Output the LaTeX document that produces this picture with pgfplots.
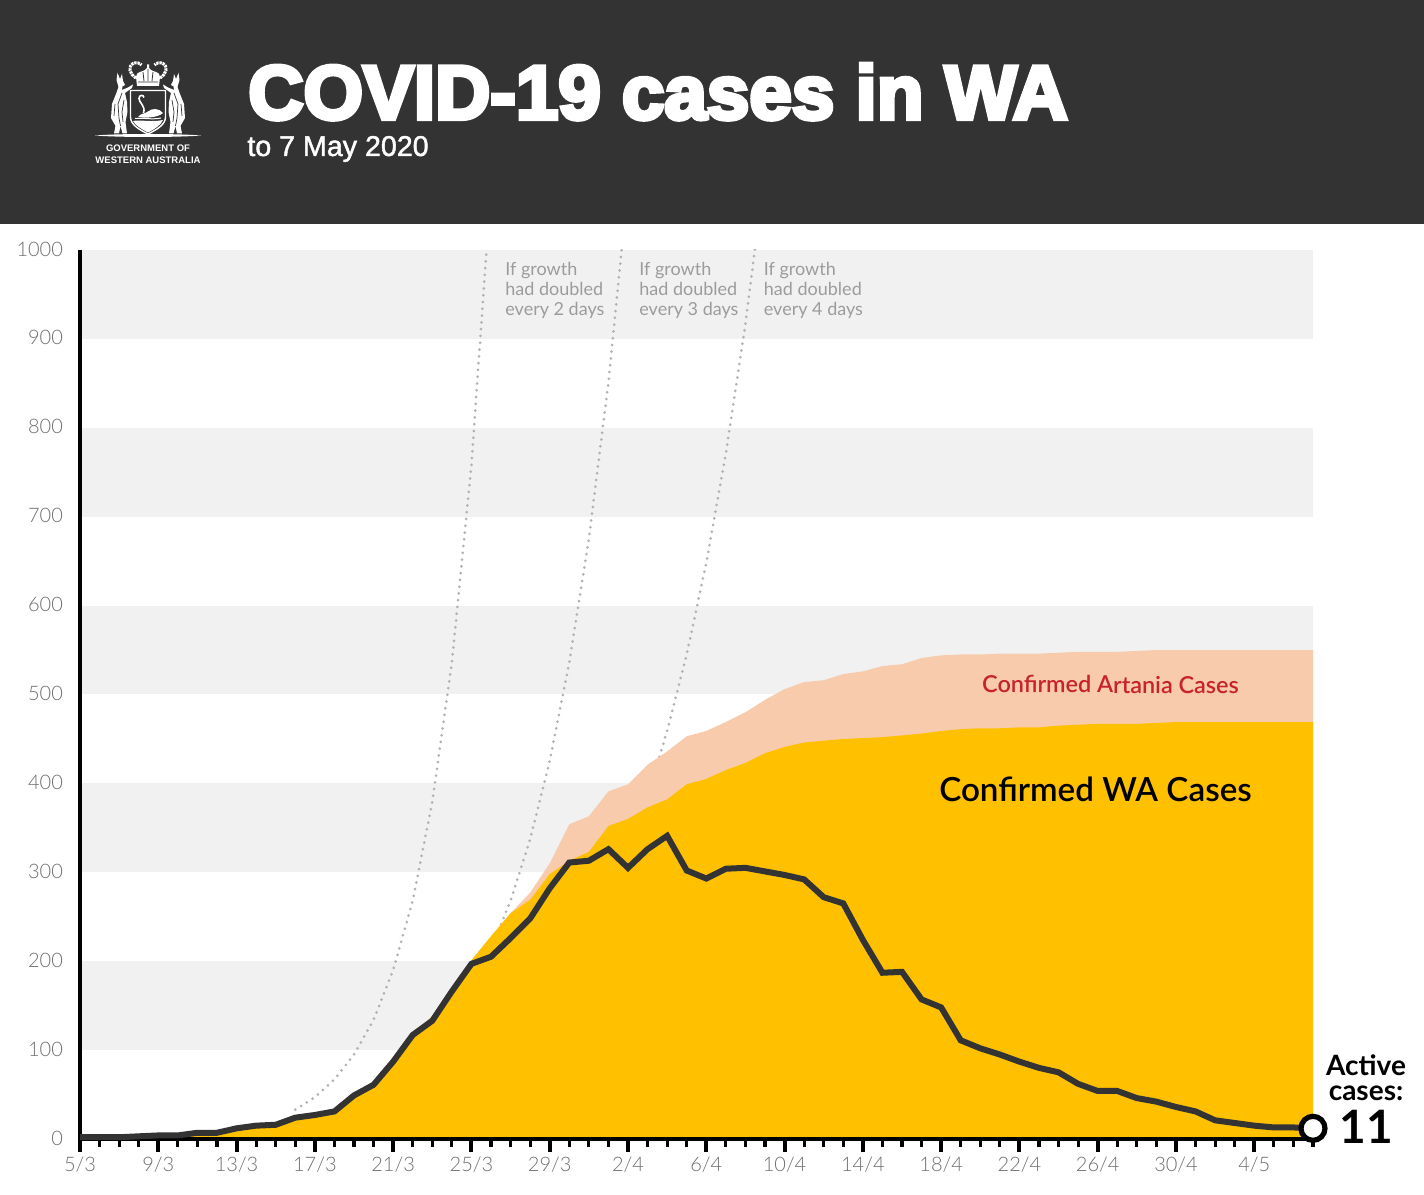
\documentclass[border=0pt]{standalone}
\usepackage{fontspec}
\usepackage{pgfplots}
\pgfplotsset{compat=1.18}
\setmainfont{Lato}
\newfontfamily\lightfont{Lato Light}
\newfontfamily\semifont{Lato Semibold}
\newfontfamily\heavyfont{Liberation Sans Bold}[FakeBold=5.5]
\newfontfamily\subfont{Liberation Sans}[FakeBold=1.6]
\newfontfamily\logofont{Liberation Sans Bold}
\definecolor{header}{HTML}{333333}
\definecolor{band}{HTML}{F1F1F1}
\definecolor{wa}{HTML}{FFC000}
\definecolor{artania}{HTML}{F7CBAC}
\definecolor{artred}{HTML}{C8232C}
\definecolor{tickgrey}{HTML}{6E6E6E}
\definecolor{dotgrey}{HTML}{B2B2B2}
\definecolor{notegrey}{HTML}{9C9C9C}

\begin{document}
\begin{tikzpicture}
\useasboundingbox (0,0) rectangle (712pt,597pt);
\begin{axis}[
    at={(40pt,27.5pt)}, anchor=south west,
    scale only axis, width=616.5pt, height=444.5pt,
    xmin=0, xmax=63, ymin=0, ymax=1000,
    axis on top,
    axis x line=bottom, axis y line=left,
    axis line style={-, line width=2pt, black},
    xtick={0,4,...,60},
    xticklabels={5/3,9/3,13/3,17/3,21/3,25/3,29/3,2/4,6/4,10/4,14/4,18/4,22/4,26/4,30/4,4/5},
    minor xtick={0,...,63},
    ytick={0,100,...,1000},
    tick align=outside,
    major tick length=6.5pt, minor tick length=4pt,
    xtick style={line width=2pt, black},
    minor x tick style={line width=1.6pt, black},
    ytick style={draw=none},
    /pgf/number format/assume math mode=true,
    /pgf/number format/1000 sep={},
    ticklabel style={font=\lightfont\fontsize{10}{12}\selectfont, text=tickgrey},
    xticklabel style={yshift=1pt},
    yticklabel style={xshift=1.5pt, yshift=0.5pt},
]
% grey bands
\addplot[fill=band, draw=none] coordinates {(0,900) (63,900) (63,1000) (0,1000)} --cycle;
\addplot[fill=band, draw=none] coordinates {(0,700) (63,700) (63,800) (0,800)} --cycle;
\addplot[fill=band, draw=none] coordinates {(0,500) (63,500) (63,600) (0,600)} --cycle;
\addplot[fill=band, draw=none] coordinates {(0,300) (63,300) (63,400) (0,400)} --cycle;
\addplot[fill=band, draw=none] coordinates {(0,100) (63,100) (63,200) (0,200)} --cycle;
% doubling guides
\addplot[dotgrey, line width=1.5pt, line cap=round, dash pattern=on 0pt off 3.4pt] coordinates {
    (11,33) (12,47) (13,67) (14,95) (15,134) (16,190) (17,268) (18,379) (19,536) (20,758) (21,1072) };
\addplot[dotgrey, line width=1.5pt, line cap=round, dash pattern=on 0pt off 3.4pt] coordinates {
    (21,213) (22,268) (23,337) (24,425) (25,536) (26,675) (27,851) (28,1072) };
\addplot[dotgrey, line width=1.5pt, line cap=round, dash pattern=on 0pt off 3.4pt] coordinates {
    (29,386) (30,459) (31,545) (32,648) (33,771) (34,917) (35,1090) };
% all confirmed (WA + Artania)
\addplot[fill=artania, draw=none] coordinates {
    (0,0) (4,0) (5,3) (6,5) (7,5) (8,10) (9,13) (10,14) (11,23) (12,26) (13,30) (14,48) (15,60)
    (16,87) (17,118) (18,138) (19,170) (20,201) (21,228) (22,254) (23,277) (24,310) (25,354)
    (26,363) (27,391) (28,399) (29,421) (30,436) (31,453) (32,459) (33,469) (34,480) (35,494)
    (36,506) (37,514) (38,516) (39,523) (40,526) (41,532) (42,534) (43,541) (44,544) (45,545)
    (46,545) (47,546) (48,546) (49,546) (50,547) (51,548) (52,548) (53,548) (54,549) (55,550)
    (56,550) (57,550) (58,550) (59,550) (60,550) (61,550) (62,550) (63,550) (63,0) } --cycle;
% WA cases
\addplot[fill=wa, draw=none] coordinates {
    (0,0) (4,0) (5,3) (6,5) (7,5) (8,10) (9,13) (10,14) (11,23) (12,26) (13,30) (14,48) (15,60)
    (16,87) (17,118) (18,138) (19,170) (20,201) (21,228) (22,254) (23,269) (24,298) (25,313)
    (26,323) (27,352) (28,360) (29,373) (30,382) (31,399) (32,405) (33,415) (34,423) (35,434)
    (36,441) (37,446) (38,448) (39,450) (40,451) (41,452) (42,454) (43,456) (44,459) (45,461)
    (46,462) (47,462) (48,463) (49,463) (50,465) (51,466) (52,467) (53,467) (54,467) (55,468)
    (56,469) (57,469) (58,469) (59,469) (60,469) (61,469) (62,469) (63,469) (63,0) } --cycle;
\end{axis}
% second axis so the active line and its end marker sit over the axis lines
\begin{axis}[
    at={(40pt,27.5pt)}, anchor=south west,
    scale only axis, width=616.5pt, height=444.5pt,
    xmin=0, xmax=63, ymin=0, ymax=1000,
    clip=false, hide axis,
]
\addplot[header, line width=3pt, line join=miter] coordinates {
    (0,2) (1,2) (2,2) (3,3) (4,4) (5,4) (6,7) (7,7) (8,12) (9,15) (10,16) (11,24) (12,27) (13,31)
    (14,49) (15,61) (16,87) (17,117) (18,133) (19,166) (20,197) (21,205) (22,226) (23,248) (24,282)
    (25,311) (26,313) (27,326) (28,305) (29,326) (30,341) (31,302) (32,293) (33,304) (34,305)
    (35,301) (36,297) (37,292) (38,272) (39,265) (40,224) (41,187) (42,188) (43,157) (44,148)
    (45,111) (46,102) (47,95) (48,87) (49,80) (50,75) (51,62) (52,54) (53,54) (54,46) (55,42)
    (56,36) (57,31) (58,21) (59,18) (60,15) (61,13) (62,13) (63,12) };
\addplot[only marks, mark=*, mark size=6pt, mark options={fill=white, draw=black, line width=2.6pt}]
    coordinates {(63,12)};
\end{axis}

% everything below in image pixels, y downwards
\begin{scope}[x=0.5pt, y=-0.5pt, yshift=597pt]
\fill[header] (0,0) rectangle (1424,224);
\node[anchor=base west, inner sep=0, text=white] at (248,119)
    {\heavyfont\fontsize{38.2}{39}\selectfont COVID-19 cases in WA};
\node[anchor=base west, inner sep=0, text=white] at (247,156)
    {\subfont\fontsize{14.3}{16}\selectfont to 7 May 2020};
% crest, drawn roughly
\fill[white] (95,135.5) .. controls (120,133.5) and (176,133.5) .. (201,135.5) .. controls (176,137.5) and (120,137.5) .. (95,135.5) -- cycle;
\foreach \sx/\ox in {1/0, -1/296} {
  \begin{scope}[xshift=\ox*0.5pt, xscale=\sx]
    % kangaroo
    \fill[white] (117.5,73) -- (120,79) -- (122,74) -- (123,81) -- (125,85) -- (122.5,86.5) -- (122,90) -- (128,87.5)
      -- (133,84.5) -- (132,88) -- (125,93) -- (127,102) -- (127.5,112) -- (125.5,122) -- (127,133.5) -- (122.5,133.5)
      -- (120.5,126) -- (119,133.5) -- (114,133.5) -- (115.5,126) -- (111,118) -- (112,104) -- (116,94) -- (118.5,87) -- (116.5,80) -- cycle;
    \draw[header, line width=0.35pt] (122,93) -- (118,104) -- (119,118) -- (120.5,126)
      (124,100) -- (122,112) -- (123,122) (115,104) -- (114,116);
    % wreath
    \draw[white, line width=1.5pt, dash pattern=on 1.2pt off 0.4pt] (136,78) .. controls (129,74) and (128,66) .. (133,63.5)
      .. controls (136,62) and (140,63) .. (141.5,65);
  \end{scope}
}
% crown
\fill[white] (137,86) -- (136,77) .. controls (136,71) and (143,72) .. (145,70) -- (147,68) -- (147,64.5) -- (149,64.5) -- (149,68) -- (151,70)
  .. controls (153,72) and (160,71) .. (160,77) -- (159,86) -- cycle;
\draw[header, line width=0.4pt] (138,82) -- (158,82) (143,72) -- (144,81) (148,69) -- (148,81) (153,72) -- (152,81);
% shield
\filldraw[draw=white, fill=header, line width=0.7pt] (130.5,90.5) -- (165.5,90.5) -- (165.5,117)
  .. controls (165.5,125) and (156,130) .. (148,134) .. controls (140,130) and (130.5,125) .. (130.5,117) -- cycle;
\fill[white] (133,121) .. controls (141,119.5) and (152,122.5) .. (163,120) .. controls (161,125) and (155,129) .. (148,132.5)
  .. controls (141,129) and (135,125) .. (133,121) -- cycle;
\fill[white] (138,117) .. controls (141,113) and (145,114) .. (148,111.5) .. controls (152,108) and (159,108) .. (163,113)
  .. controls (158,117.5) and (146,118.5) .. (138,117) -- cycle;
\draw[white, line width=0.8pt] (143.5,113) .. controls (146,106) and (139,103) .. (139,98.5) .. controls (139,94.5) and (143.5,94.5) .. (144,97.5);
\draw[white, line width=0.5pt] (135,118.5) .. controls (142,117.5) and (152,120) .. (161,118);
\node[inner sep=0, text=white, align=center, font=\logofont\fontsize{4.75}{5.8}\selectfont] at (148,154)
    {GOVERNMENT OF\\ WESTERN AUSTRALIA};
% guide notes
\foreach \px/\n in {505/2, 639/3, 763.5/4} {
  \node[anchor=north west, inner sep=0, text=notegrey, align=left, font=\fontsize{9}{10}\selectfont] at (\px,262)
    {If growth\\ had doubled\\ every \n\ days};
}
\node[inner sep=0, text=artred, rotate=-0.4] at (1110.5,684.5)
    {\semifont\fontsize{11.7}{13}\selectfont Confirmed Artania Cases};
\node[inner sep=0, text=black] at (1095.5,789)
    {\semifont\fontsize{16.6}{18}\selectfont Confirmed WA Cases};
\node[inner sep=0, text=black, align=center, font=\fontsize{14}{12.5}\selectfont\bfseries] at (1366,1078)
    {Active\\ cases:};
\node[inner sep=0, text=black] at (1366,1127)
    {\fontsize{23}{23}\selectfont\bfseries 11};
\end{scope}
\end{tikzpicture}
\end{document}
